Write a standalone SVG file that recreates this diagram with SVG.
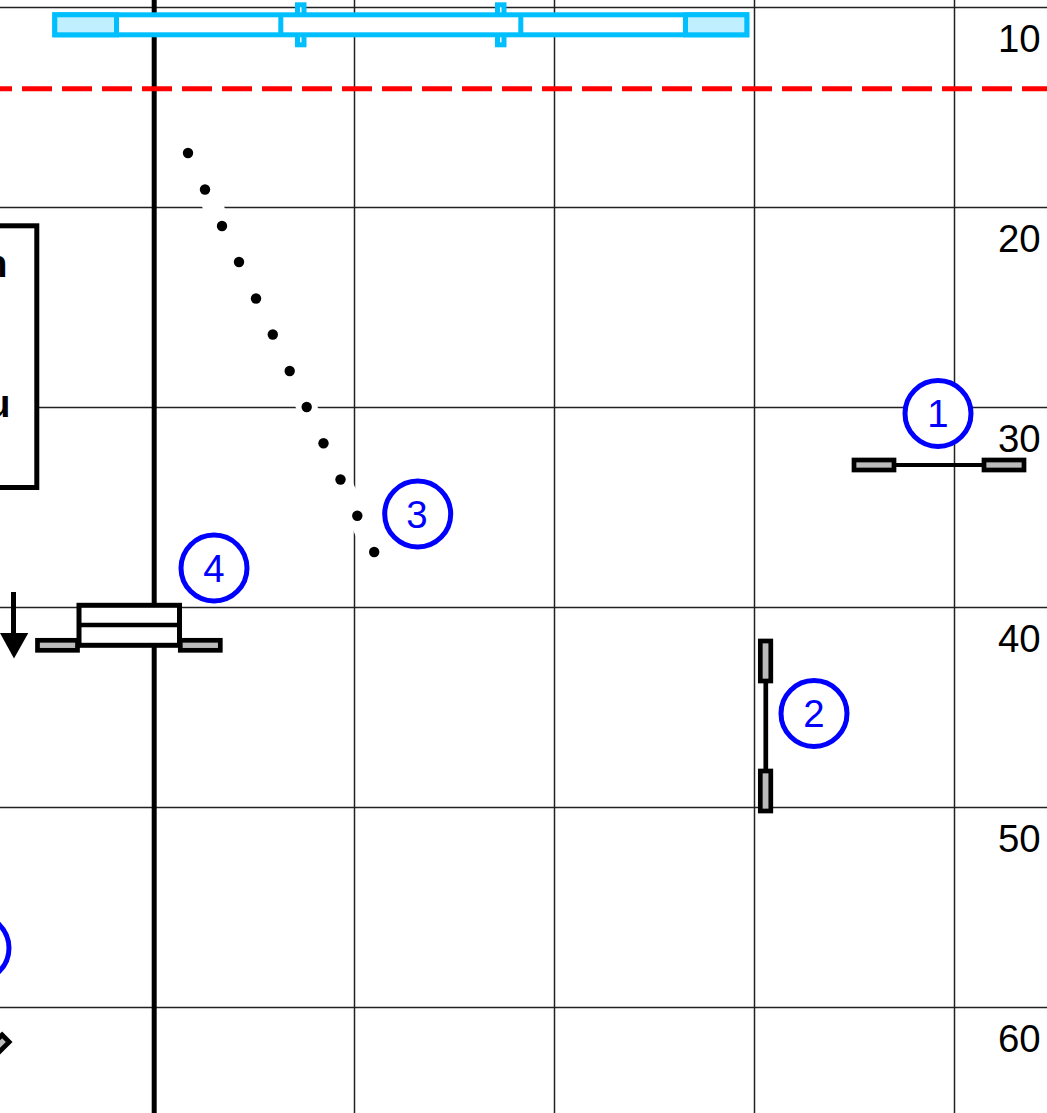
<svg xmlns="http://www.w3.org/2000/svg" width="1047" height="1113" viewBox="0 0 1047 1113">
<style>
text{font-family:"Liberation Sans",Arial,sans-serif;font-size:38.4px}
.grid{stroke:#222;stroke-width:1.5;fill:none}
.num{fill:#000}
.tag circle{fill:#fff;stroke:#00f;stroke-width:5}
.tag text{fill:#00f;text-anchor:middle}
.pad{fill:#bbb;stroke:#000;stroke-width:4.700}
.ln{stroke:#000;stroke-width:4.700;fill:none}
.sky{stroke:#00bfff;stroke-width:5;fill:#fff}
.lite{fill:#c0f0ff}
.dot{fill:#000}
.b{font-weight:bold}
</style>
<rect width="1047" height="1113" fill="#fff"/>
<g id="grid" class="grid">
<path d="M0 7.500H1047M0 207.500H1047M0 407.500H1047M0 607.500H1047M0 807.500H1047M0 1007.500H1047"/>
<path d="M354.500 0V1113M554.500 0V1113M754.500 0V1113M954.500 0V1113"/>
</g>
<g id="axis-labels" class="num">
<text x="998" y="52">10</text>
<text x="998" y="252">20</text>
<text x="998" y="452">30</text>
<text x="998" y="652">40</text>
<text x="998" y="852">50</text>
<text x="998" y="1052">60</text>
</g>
<g id="connectors">
<path d="M154.200 0V1113" stroke="#000" stroke-width="5" fill="none"/>
<path d="M-18 88.800H1047" stroke="#f00" stroke-width="5" stroke-dasharray="30 10" fill="none"/>
</g>
<g id="bar">
<rect class="sky" x="297.500" y="4.800" width="6.500" height="40"/>
<rect class="sky" x="497.500" y="4.800" width="6.500" height="40"/>
<rect class="sky" x="54.800" y="14.800" width="692" height="20"/>
<rect class="sky lite" x="54.800" y="14.800" width="61.700" height="20"/>
<rect class="sky lite" x="685.500" y="14.800" width="61.300" height="20"/>
<path d="M280.800 14.800V34.800M520.800 14.800V34.800" class="sky"/>
</g>
<g id="box">
<rect x="-10" y="225.800" width="46.800" height="261.700" fill="#fff" stroke="#000" stroke-width="5"/>
<text class="b" x="-16" y="277">n</text>
<text class="b" x="-13" y="417">u</text>
</g>
<g id="node-1">
<path class="ln" d="M894 465H984" style="stroke-width:4"/>
<rect class="pad" x="854" y="460" width="40" height="10"/>
<rect class="pad" x="984" y="460" width="40" height="10"/>
</g>
<g id="node-2">
<path class="ln" d="M765.800 681V771"/>
<rect class="pad" x="760.300" y="641" width="10.500" height="40"/>
<rect class="pad" x="760.300" y="771" width="10.500" height="40"/>
</g>
<g id="node-3">
<path d="M188 153L374.200 552" stroke="#fff" stroke-width="20" fill="none"/>
<circle class="dot" cx="188" cy="153" r="5.200"/>
<circle class="dot" cx="205" cy="189.500" r="5.200"/>
<circle class="dot" cx="222" cy="226" r="5.200"/>
<circle class="dot" cx="239" cy="262" r="5.200"/>
<circle class="dot" cx="256" cy="298.500" r="5.200"/>
<circle class="dot" cx="272.800" cy="334.500" r="5.200"/>
<circle class="dot" cx="289.700" cy="371" r="5.200"/>
<circle class="dot" cx="306.700" cy="407" r="5.200"/>
<circle class="dot" cx="323.500" cy="443.300" r="5.200"/>
<circle class="dot" cx="340.500" cy="479.500" r="5.200"/>
<circle class="dot" cx="357.300" cy="515.800" r="5.200"/>
<circle class="dot" cx="374.200" cy="552" r="5.200"/>
</g>
<g id="node-4">
<rect x="79" y="605.300" width="100.500" height="40" fill="#fff" stroke="#000" stroke-width="5"/>
<path class="ln" d="M79 625H179"/>
<rect class="pad" x="37.500" y="640.300" width="40" height="10"/>
<rect class="pad" x="180.300" y="640.300" width="40" height="10"/>
</g>
<g id="arrow">
<path d="M13.500 592V636" stroke="#000" stroke-width="5" fill="none"/>
<path d="M0 633H28.300L14 658.500Z" fill="#000"/>
</g>
<g id="node-5">
<rect class="pad" x="-12" y="1039" width="20" height="10" transform="rotate(-45 0 1044)"/>
</g>
<g id="tag-1" class="tag"><circle cx="938" cy="413.500" r="33"/><text x="938" y="427">1</text></g>
<g id="tag-2" class="tag"><circle cx="814" cy="713.500" r="33"/><text x="814" y="727">2</text></g>
<g id="tag-3" class="tag"><circle cx="417.700" cy="514" r="33"/><text x="417" y="527.500">3</text></g>
<g id="tag-4" class="tag"><circle cx="214" cy="568" r="33"/><text x="214" y="581.500">4</text></g>
<g id="tag-5" class="tag"><circle cx="-24" cy="948" r="33"/></g>
</svg>
